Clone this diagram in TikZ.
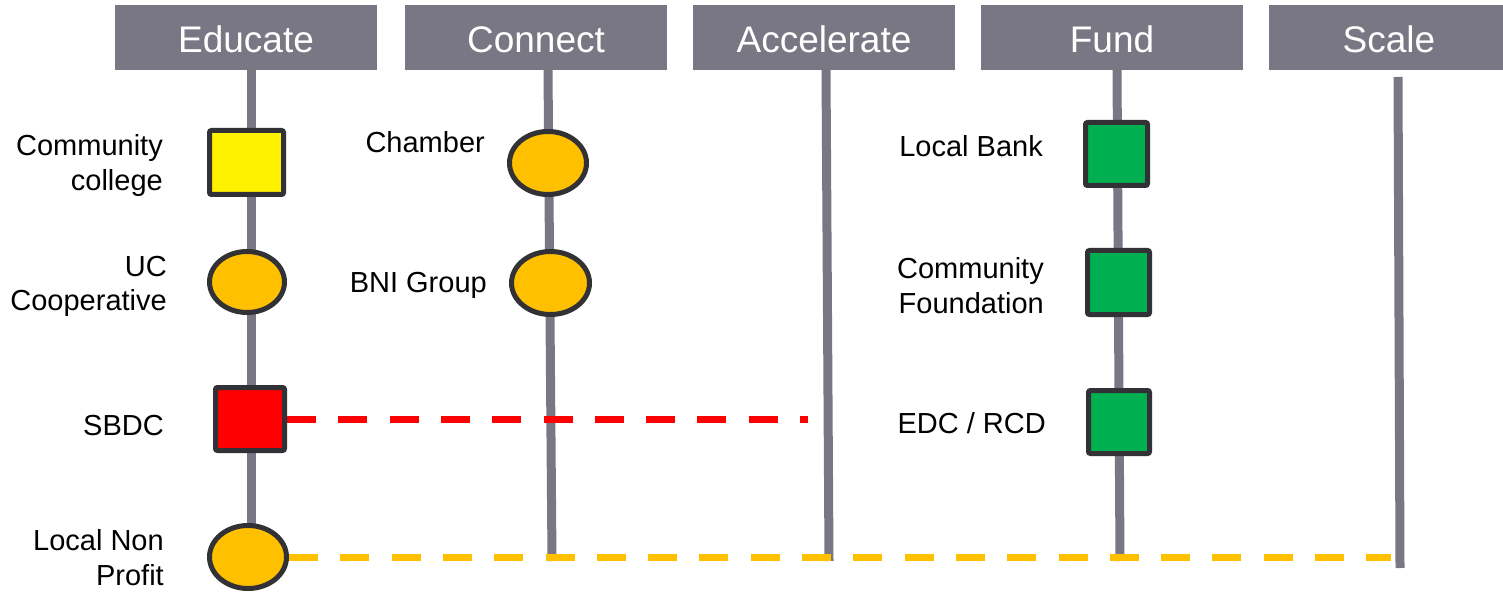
\documentclass[tikz,border=0pt]{standalone}
\usepackage{fontspec}
\setmainfont{Liberation Sans}
\usetikzlibrary{shapes.geometric,backgrounds}
\definecolor{hdr}{RGB}{122,119,133}
\definecolor{edge}{RGB}{50,49,54}
\definecolor{amber}{RGB}{255,192,0}
\definecolor{grn}{RGB}{0,176,80}
\begin{document}
\begin{tikzpicture}[x=1pt,y=-1pt,
  header/.style={fill=hdr, text=white, minimum height=65pt, inner sep=0pt,
    font=\fontsize{37}{44}\selectfont, text height=31pt, text depth=0pt},
  rail/.style={draw=hdr, line width=9pt},
  marker/.style={draw=edge, line width=5pt, inner sep=0pt},
  sq/.style={marker, rectangle, rounded corners=2pt},
  ov/.style={marker, ellipse, fill=amber},
  lbl/.style={font=\fontsize{29}{35}\selectfont, align=right, anchor=base east, inner sep=0pt},
  link/.style={line width=7pt, dash pattern=on 29pt off 22.3pt}
]
\useasboundingbox (0,0) rectangle (1503,593);

% headers
\node[header, minimum width=262pt] (edu)  at (246,37.5)  {Educate};
\node[header, minimum width=262pt] (con)  at (536,37.5)  {Connect};
\node[header, minimum width=262pt] (acc)  at (824,37.5)  {Accelerate};
\node[header, minimum width=262pt] (fund) at (1112,37.5) {Fund};
\node[header, minimum width=240pt] (scl)  at (1389,37.5) {Scale};

% free ends
\coordinate (eb) at (251,575);
\coordinate (cb) at (552,561);
\coordinate (ab) at (829,561);
\coordinate (fb) at (1120,561);
\coordinate (st) at (1398,77);
\coordinate (sb) at (1400,568);
\coordinate (redend) at (808,419);
\coordinate (ambend) at (1391,557);

% markers
\node[sq, fill=yellow, minimum width=74pt, minimum height=64pt] (cc) at (246.5,162.5) {};
\node[ov, minimum width=75pt, minimum height=61pt] (uc) at (247,282) {};
\node[sq, fill=red, minimum width=69pt, minimum height=63pt] (sbdc) at (250,419) {};
\node[ov, minimum width=77pt, minimum height=63pt] (lnp) at (248,557) {};
\node[ov, minimum width=77pt, minimum height=63pt] (ch) at (548,163) {};
\node[ov, minimum width=78pt, minimum height=63pt] (bni) at (550.5,283) {};
\node[sq, fill=grn, minimum width=62pt, minimum height=63pt] (bank) at (1116.5,154) {};
\node[sq, fill=grn, minimum width=62pt, minimum height=64pt] (cf) at (1118.5,282.5) {};
\node[sq, fill=grn, minimum width=61pt, minimum height=63pt] (edc) at (1119,422) {};

% labels (base anchor = baseline of the last line)
\node[lbl] (lcc)   at (163,191)  {Community\\college};
\node[lbl] (luc)   at (167,311)  {UC\\Cooperative};
\node[lbl] (lsbdc) at (164,435)  {SBDC};
\node[lbl] (llnp)  at (164,585)  {Local Non\\Profit};
\node[lbl] (lch)   at (485,153)  {Chamber};
\node[lbl] (lbni)  at (487,293)  {BNI Group};
\node[lbl] (lbank) at (1043,157) {Local Bank};
\node[lbl] (lcf)   at (1044,313) {Community\\Foundation};
\node[lbl] (ledc)  at (1046,433) {EDC / RCD};

\begin{scope}[on background layer]
  \draw[rail] ([xshift=5pt]edu.south) -- (eb);
  \draw[rail] ([xshift=12pt]con.south) -- (cb);
  \draw[rail] ([xshift=2pt]acc.south) -- (ab);
  \draw[rail] ([xshift=5pt]fund.south) -- (fb);
  \draw[rail] (st) -- (sb);
  \draw[link, red] (sbdc.east) -- (redend);
  \draw[link, amber] (lnp.east) -- (ambend);
\end{scope}
\end{tikzpicture}
\end{document}
